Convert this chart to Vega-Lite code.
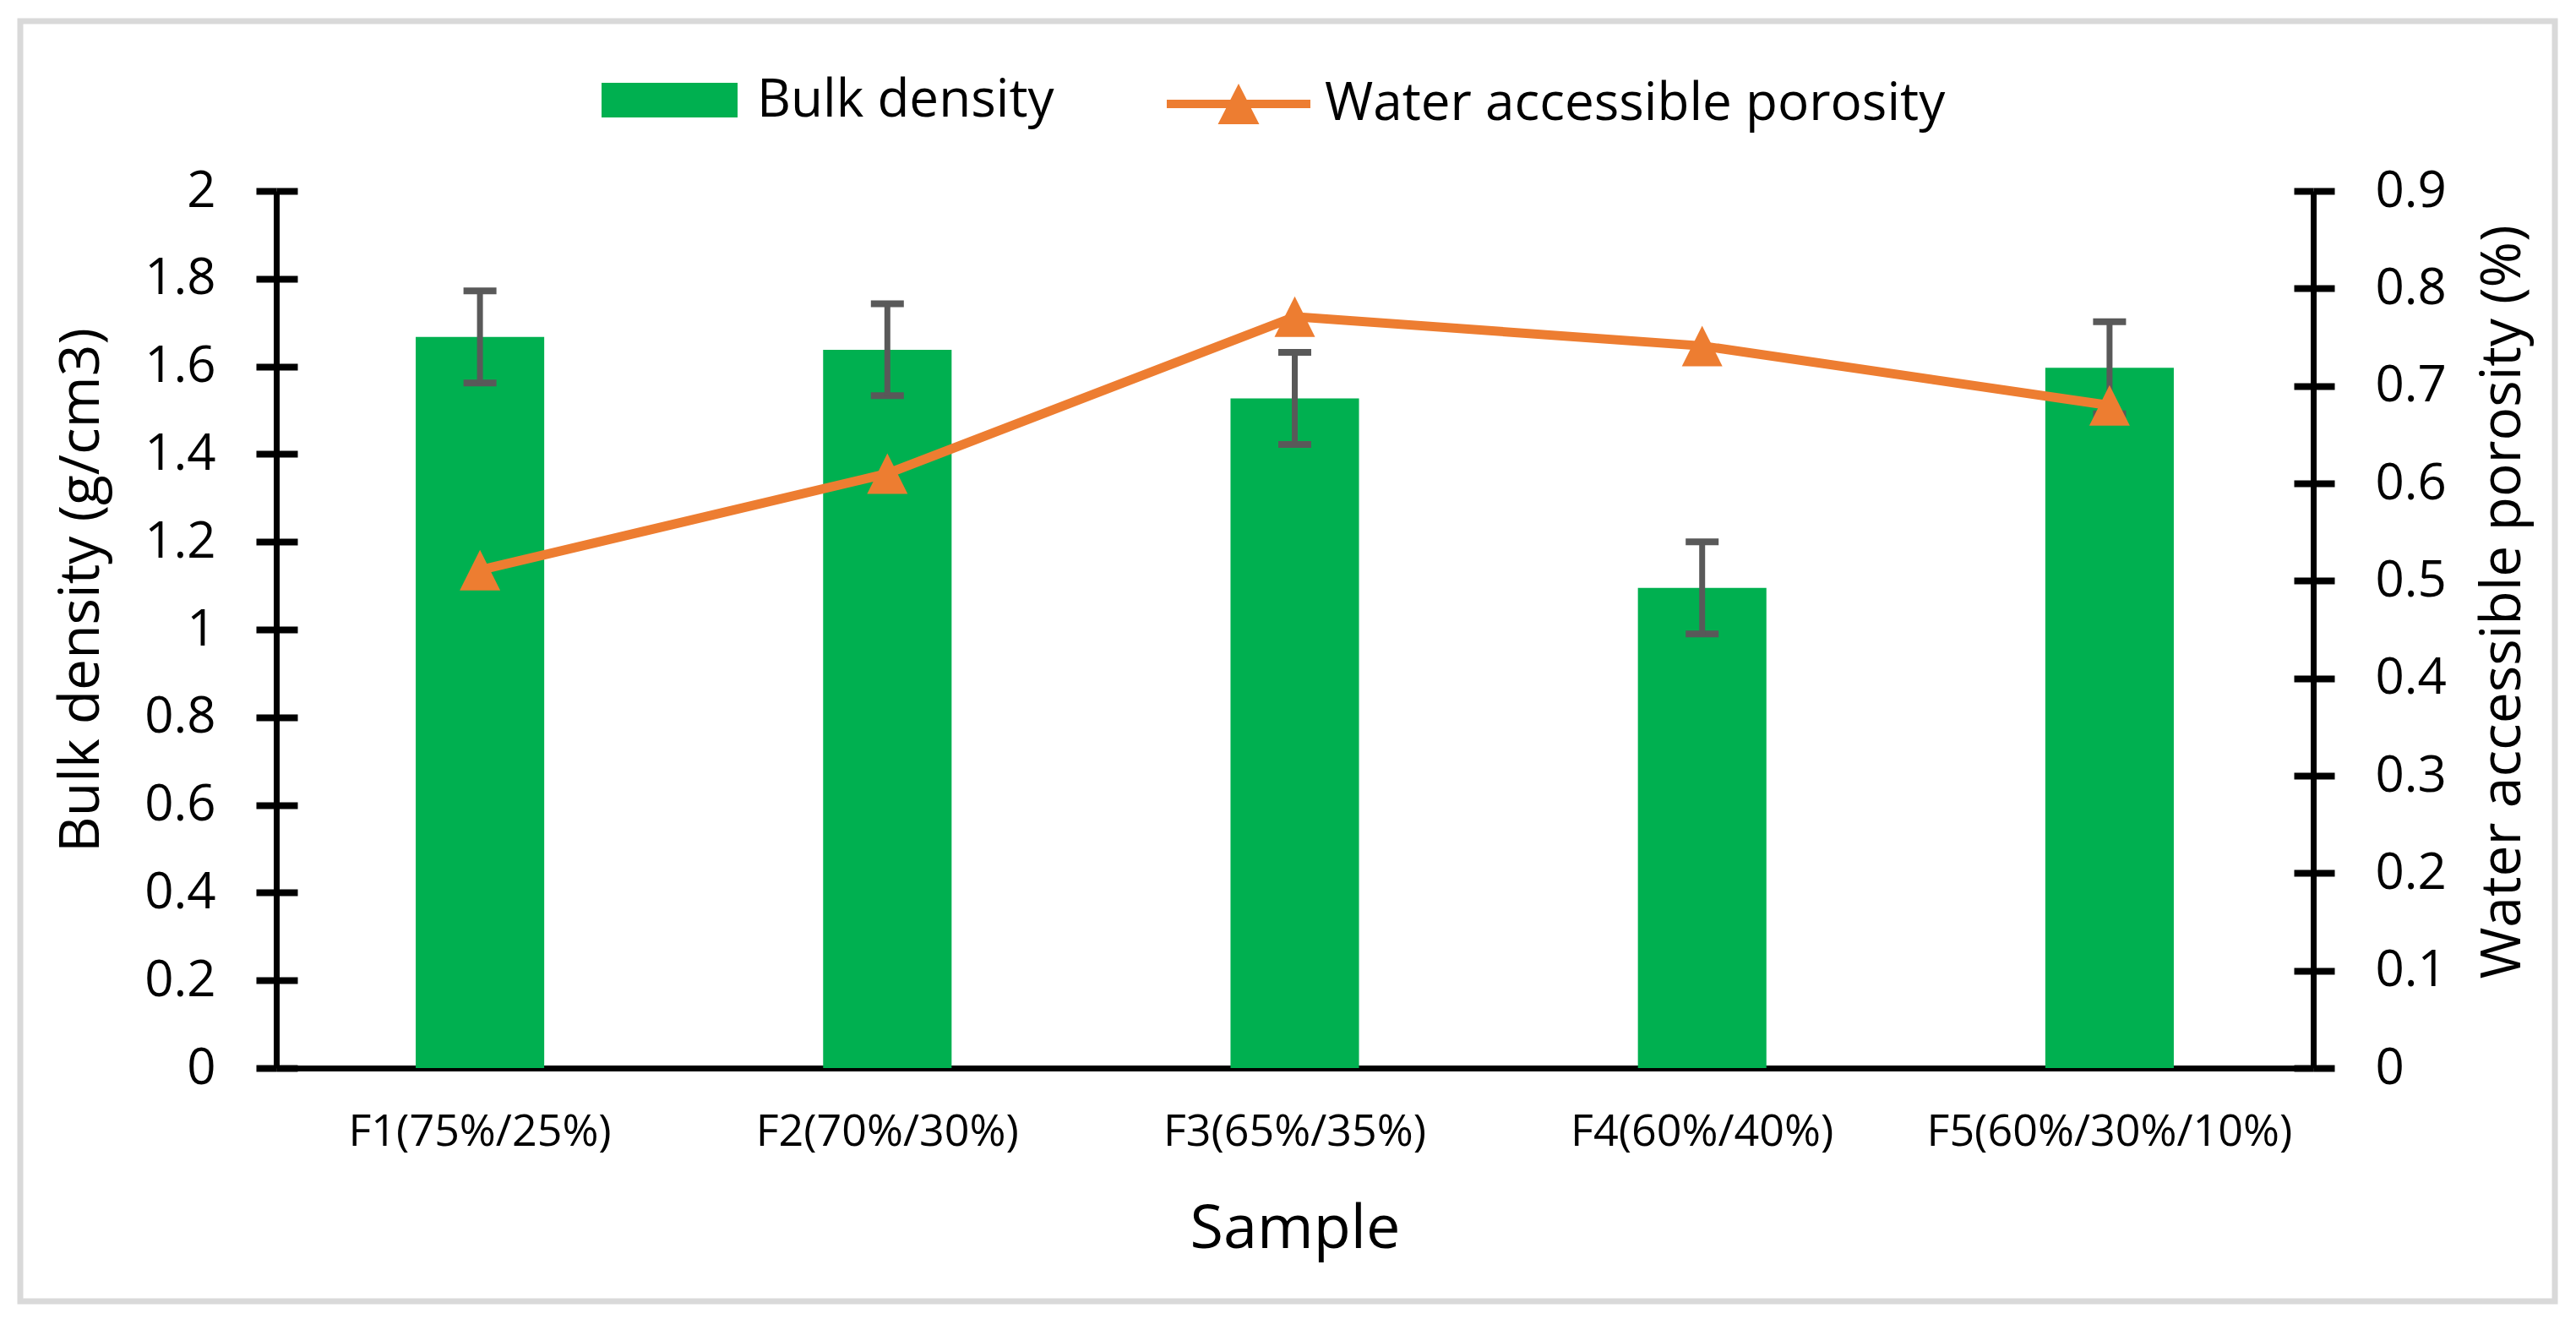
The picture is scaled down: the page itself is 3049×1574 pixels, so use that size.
{
  "$schema": "https://vega.github.io/schema/vega-lite/v6.json",
  "width": 3000,
  "height": 1515,
  "autosize": {"type": "none"},
  "padding": {"left": 24, "top": 25, "right": 25, "bottom": 34},
  "background": "white",
  "config": {
    "view": {"stroke": "#D9D9D9", "strokeWidth": 7},
    "font": "Open Sans",
    "axis": {"grid": false, "labelColor": "black", "titleColor": "black", "titleFontWeight": "normal", "domainColor": "black", "tickColor": "black"}
  },
  "data": {
    "values": [
      {"Sample": "F1(75%/25%)", "bulk": 1.667, "lo": 1.562, "hi": 1.772, "porosity": 0.511},
      {"Sample": "F2(70%/30%)", "bulk": 1.638, "lo": 1.533, "hi": 1.743, "porosity": 0.61},
      {"Sample": "F3(65%/35%)", "bulk": 1.527, "lo": 1.422, "hi": 1.632, "porosity": 0.771},
      {"Sample": "F4(60%/40%)", "bulk": 1.095, "lo": 0.99, "hi": 1.2, "porosity": 0.741},
      {"Sample": "F5(60%/30%/10%)", "bulk": 1.597, "lo": 1.492, "hi": 1.702, "porosity": 0.68}
    ]
  },
  "layer": [
    {
      "layer": [
        {
          "mark": {"type": "bar", "color": "#00B050"},
          "encoding": {
            "x": {
              "field": "Sample", "type": "nominal", "sort": null,
              "scale": {"range": [303, 2714], "paddingInner": 0.6846, "paddingOuter": 0.3423},
              "axis": {
                "title": "Sample", "labelAngle": 0, "ticks": false, "tickSize": 0,
                "labelPadding": 50, "labelFontSize": 52, "labelLimit": 0,
                "domainWidth": 7, "titleFontSize": 72, "offset": -276,
                "titleX": 1508.5, "titleY": 212, "titleBaseline": "alphabetic", "titleAlign": "center"
              }
            },
            "y": {
              "field": "bulk", "type": "quantitative",
              "scale": {"domain": [0, 2], "nice": false, "range": [1239, 201]},
              "axis": {
                "orient": "left",
                "title": "Bulk density (g/cm3)",
                "values": [0, 0.2, 0.4, 0.6, 0.8, 1, 1.2, 1.4, 1.6, 1.8, 2],
                "format": "~g", "offset": -303,
                "domainWidth": 7, "tickWidth": 8, "tickSize": 24, "labelPadding": 48,
                "labelFontSize": 60, "titleFontSize": 66,
                "titleX": -211, "titleY": 673, "titleAngle": 270, "titleBaseline": "alphabetic", "titleAlign": "center"
              }
            },
            "color": {
              "datum": "Bulk density",
              "scale": {"domain": ["Bulk density"], "range": ["#00B050"]},
              "legend": {
                "orient": "none", "legendX": 688, "legendY": 13, "title": null, "padding": 0,
                "symbolType": "M-1,-0.255H1V0.255H-1Z", "symbolSize": 25921, "symbolStrokeWidth": 0,
                "labelFontSize": 62, "labelOffset": 23, "labelColor": "black", "labelFont": "Open Sans", "labelLimit": 0
              }
            }
          }
        },
        {
          "mark": {"type": "tick", "orient": "horizontal", "color": "#595959", "size": 39, "thickness": 8, "opacity": 1},
          "encoding": {
            "x": {"field": "Sample", "type": "nominal", "sort": null},
            "y": {"field": "lo", "type": "quantitative"}
          }
        },
        {
          "mark": {"type": "tick", "orient": "horizontal", "color": "#595959", "size": 39, "thickness": 8, "opacity": 1},
          "encoding": {
            "x": {"field": "Sample", "type": "nominal", "sort": null},
            "y": {"field": "hi", "type": "quantitative"}
          }
        }
      ]
    },
    {
      "mark": {"type": "rule", "color": "#595959", "strokeWidth": 7},
      "encoding": {
        "x": {"field": "Sample", "type": "nominal", "sort": null},
        "y": {
          "field": "lo", "type": "quantitative",
          "scale": {"domain": [0, 2], "nice": false, "range": [1239, 201]},
          "axis": {
            "orient": "left", "title": null, "labels": false, "domain": false,
            "values": [0, 0.2, 0.4, 0.6, 0.8, 1, 1.2, 1.4, 1.6, 1.8, 2],
            "offset": -303, "tickWidth": 8, "tickSize": -25
          }
        },
        "y2": {"field": "hi"}
      }
    },
    {
      "mark": {"type": "line", "color": "#ED7D31", "strokeWidth": 11},
      "encoding": {
        "x": {"field": "Sample", "type": "nominal", "sort": null},
        "y": {
          "field": "porosity", "type": "quantitative",
          "scale": {"domain": [0, 0.9], "nice": false, "range": [1239, 201]},
          "axis": {
            "orient": "right",
            "title": "Water accessible porosity (%)",
            "values": [0, 0.1, 0.2, 0.3, 0.4, 0.5, 0.6, 0.7, 0.8, 0.9],
            "format": "~g", "offset": -286,
            "domainWidth": 7, "tickWidth": 8, "tickSize": 25, "labelPadding": 48,
            "labelFontSize": 60, "titleFontSize": 66,
            "titleX": 244, "titleY": 687, "titleAngle": 270, "titleBaseline": "alphabetic", "titleAlign": "center"
          }
        }
      }
    },
    {
      "mark": {"type": "point", "filled": true, "opacity": 1, "shape": "M0,-1L1,1H-1Z", "size": 2304, "strokeWidth": 0},
      "encoding": {
        "x": {"field": "Sample", "type": "nominal", "sort": null},
        "y": {
          "field": "porosity", "type": "quantitative",
          "scale": {"domain": [0, 0.9], "nice": false, "range": [1239, 201]},
          "axis": {
            "orient": "right", "title": null, "labels": false, "domain": false,
            "values": [0, 0.1, 0.2, 0.3, 0.4, 0.5, 0.6, 0.7, 0.8, 0.9],
            "offset": -286, "tickWidth": 8, "tickSize": -23
          }
        },
        "color": {
          "datum": "Water accessible porosity",
          "scale": {"domain": ["Water accessible porosity"], "range": ["#ED7D31"]},
          "legend": {
            "orient": "none", "legendX": 1357, "legendY": 13, "title": null, "padding": 0,
            "symbolType": "M-1,-0.059H1V0.059H-1Z M0,-0.282L0.288,0.282H-0.288Z", "symbolSize": 28900, "symbolStrokeWidth": 0,
            "labelFontSize": 62, "labelOffset": 17, "labelColor": "black", "labelFont": "Open Sans", "labelLimit": 0
          }
        }
      }
    }
  ],
  "resolve": {"scale": {"y": "independent", "color": "independent"}, "axis": {"y": "independent"}}
}
